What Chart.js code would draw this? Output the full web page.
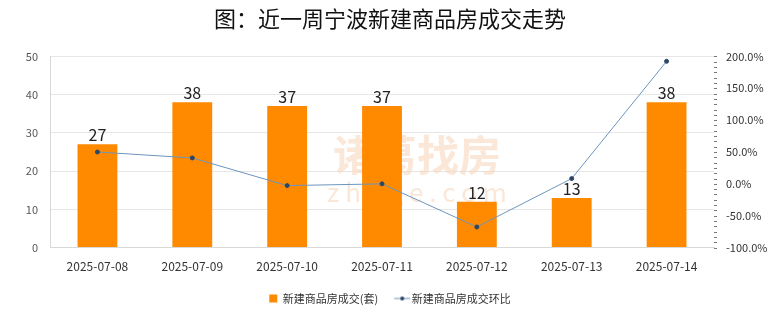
<!DOCTYPE html>
<html>
<head>
<meta charset="utf-8">
<script src="https://cdn.jsdelivr.net/npm/chart.js@4.4.1/dist/chart.umd.min.js"></script>
<style>
  html, body { margin: 0; padding: 0; background: #fff; }
  #wrap { width: 780px; height: 328px; }
</style>
</head>
<body>
<div id="wrap"><canvas id="chart" width="780" height="328"></canvas></div>
<script>
const FONT = "'Noto Sans CJK SC', 'Noto Sans', sans-serif";

// data
const dates = ["2025-07-08", "2025-07-09", "2025-07-10", "2025-07-11", "2025-07-12", "2025-07-13", "2025-07-14"];
const deals = [27, 38, 37, 37, 12, 13, 38];
const changePct = [50.0, 40.7, -2.7, 0.0, -67.6, 8.3, 192.3];
const leftTicks = [0, 10, 20, 30, 40, 50];
const rightTicks = [-100, -50, 0, 50, 100, 150, 200];

// legend marker for the line series: short line with a dot
function lineMarker() {
    const c = document.createElement("canvas");
    c.width = 18; c.height = 8;
    const g = c.getContext("2d");
    g.strokeStyle = "#6d95bd";
    g.lineWidth = 1;
    g.beginPath(); g.moveTo(1, 4); g.lineTo(17, 4); g.stroke();
    g.fillStyle = "#2c4766";
    g.beginPath(); g.arc(9, 4, 2, 0, Math.PI * 2); g.fill();
    return c;
}

// faint site mark behind the marks
const watermark = {
    id: "watermark",
    beforeDatasetsDraw(chart) {
        const ctx = chart.ctx;
        const a = chart.chartArea;
        const cx = (a.left + a.right) / 2;
        ctx.save();
        ctx.fillStyle = "rgba(246, 215, 190, 0.6)";
        ctx.textAlign = "center";
        ctx.textBaseline = "middle";
        ctx.font = "bold 42px " + FONT;
        ctx.fillText("诸葛找房", cx + 35, 155);
        ctx.font = "26px " + FONT;
        ctx.fillText("z h u g e . c o m", cx + 35, 192);
        ctx.restore();
    }
};

// value labels above bars
const barLabels = {
    id: "barLabels",
    afterDatasetsDraw(chart) {
        const ctx = chart.ctx;
        const meta = chart.getDatasetMeta(1);
        ctx.save();
        ctx.fillStyle = "#222";
        ctx.font = "16px " + FONT;
        ctx.textAlign = "center";
        ctx.textBaseline = "bottom";
        meta.data.forEach((bar, i) => {
            ctx.fillText(deals[i], bar.x, bar.y - 1);
        });
        ctx.restore();
    }
};

// minor tick dashes along the right axis
const minorTicks = {
    id: "minorTicks",
    afterDraw(chart) {
        const s = chart.scales.y1;
        const ctx = chart.ctx;
        const x = chart.chartArea.right;
        ctx.save();
        ctx.strokeStyle = "#777";
        ctx.lineWidth = 1;
        for (let v = -100; v <= 200 + 0.01; v += 50 / 6) {
            const y = Math.round(s.getPixelForValue(v)) + 0.5;
            ctx.beginPath();
            ctx.moveTo(x, y);
            ctx.lineTo(x + 3, y);
            ctx.stroke();
        }
        ctx.restore();
    }
};

const legendMarker = lineMarker();

new Chart(document.getElementById("chart"), {
    data: {
        labels: dates,
        datasets: [
            {
                type: "line",
                label: "新建商品房成交环比",
                data: changePct,
                yAxisID: "y1",
                borderColor: "#6d95bd",
                borderWidth: 1,
                pointRadius: 2,
                pointBackgroundColor: "#2c4766",
                pointBorderColor: "#2c4766",
                tension: 0,
                order: 0
            },
            {
                type: "bar",
                label: "新建商品房成交(套)",
                data: deals,
                yAxisID: "y",
                backgroundColor: "#ff8a00",
                barPercentage: 0.42,
                categoryPercentage: 1,
                order: 1
            }
        ]
    },
    options: {
        responsive: false,
        animation: false,
        layout: { padding: { left: 0, right: 0, top: 0, bottom: 14 } },
        plugins: {
            title: {
                display: true,
                text: "图：近一周宁波新建商品房成交走势",
                color: "#111",
                font: { family: FONT, size: 22, weight: "400" },
                padding: { top: 5, bottom: 25 }
            },
            legend: {
                position: "bottom",
                reverse: true,
                labels: {
                    usePointStyle: true,
                    boxWidth: 8,
                    boxHeight: 8,
                    padding: 20,
                    color: "#333",
                    font: { family: FONT, size: 11 },
                    generateLabels(chart) {
                        return chart.data.datasets.map((ds, i) => ({
                            text: ds.label,
                            fillStyle: ds.type === "bar" ? "#ff8a00" : "#2c4766",
                            strokeStyle: ds.type === "bar" ? "#ff8a00" : "#2c4766",
                            lineWidth: 0,
                            pointStyle: ds.type === "bar" ? "rect" : legendMarker,
                            datasetIndex: i,
                            hidden: false,
                            fontColor: "#333"
                        }));
                    }
                }
            },
            tooltip: { enabled: false }
        },
        scales: {
            x: {
                grid: { display: false },
                border: { color: "#d8d8d8" },
                afterFit(s) { s.height -= 5; },
                ticks: { color: "#333", font: { family: FONT, size: 12 }, padding: 4 }
            },
            y: {
                position: "left",
                min: 0,
                max: 50,
                afterBuildTicks(s) { s.ticks = leftTicks.map(v => ({ value: v })); },
                afterFit(s) { s.width = 50; },
                grid: { color: "#e6e6e6", drawTicks: false },
                border: { color: "#d8d8d8" },
                ticks: { color: "#555", font: { family: FONT, size: 11 }, padding: 12 }
            },
            y1: {
                position: "right",
                min: -100,
                max: 200,
                afterBuildTicks(s) { s.ticks = rightTicks.map(v => ({ value: v })); },
                afterFit(s) { s.width = 66; },
                grid: { display: false },
                border: { display: false },
                ticks: {
                    color: "#333",
                    font: { family: FONT, size: 11 },
                    padding: 4,
                    callback: v => v.toFixed(1) + "%"
                }
            }
        }
    },
    plugins: [watermark, barLabels, minorTicks]
});
</script>
</body>
</html>
